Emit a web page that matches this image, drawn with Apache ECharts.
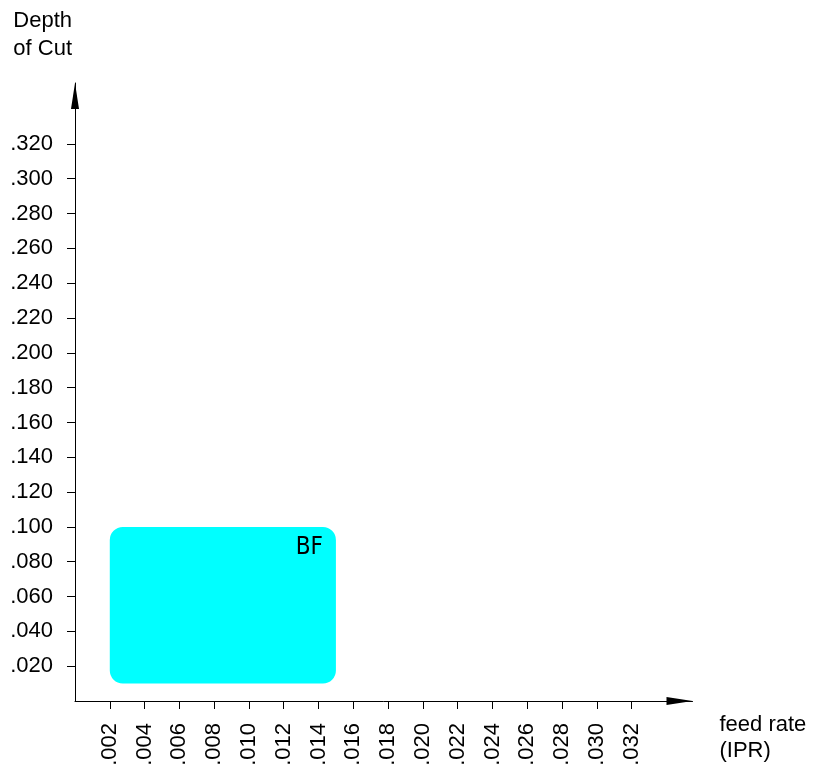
<!DOCTYPE html>
<html>
<head>
<meta charset="utf-8">
<title>Depth of Cut vs feed rate</title>
<script src="https://cdn.jsdelivr.net/npm/echarts@6/dist/echarts.min.js"></script>
<style>
  html, body { margin: 0; padding: 0; background: #fff; }
  #chart { width: 825px; height: 775px; }
</style>
</head>
<body>
<div id="chart"></div>
<script>
// tick positions on each axis
const feedTicks = [0.002, 0.004, 0.006, 0.008, 0.010, 0.012, 0.014, 0.016,
                   0.018, 0.020, 0.022, 0.024, 0.026, 0.028, 0.030, 0.032];
const depthTicks = [0.020, 0.040, 0.060, 0.080, 0.100, 0.120, 0.140, 0.160,
                    0.180, 0.200, 0.220, 0.240, 0.260, 0.280, 0.300, 0.320];

// operating zones: name, feed range, depth range
const zoneNames = ['BF'];
const zoneFeed = [[0.002, 0.015]];
const zoneDepth = [[0.010, 0.100]];

const fontFamily = '"Liberation Sans", Arial, sans-serif';
const fmt = v => v.toFixed(3).replace(/^0/, '');

const zoneData = zoneNames.map((n, i) => ({
    name: n,
    value: [zoneFeed[i][0], zoneFeed[i][1], zoneDepth[i][0], zoneDepth[i][1]]
}));

const myChart = echarts.init(document.getElementById('chart'));

const axisLineCommon = {
    show: true,
    symbol: ['none', 'triangle'],
    symbolSize: [8, 26],
    symbolOffset: [0, -13],
    lineStyle: { color: '#000', width: 1 }
};

const option = {
    animation: false,
    backgroundColor: '#fff',
    grid: {
        left: 75,
        right: 132.5,
        top: 83,
        bottom: 74,
        outerBoundsMode: 'none'
    },
    xAxis: {
        type: 'value',
        min: 0,
        max: 0.0355,
        name: 'feed rate\n(IPR)',
        nameLocation: 'end',
        nameGap: 27,
        nameMoveOverlap: false,
        nameTextStyle: {
            color: '#000',
            fontSize: 22,
            fontFamily: fontFamily,
            align: 'left',
            verticalAlign: 'top',
            lineHeight: 26,
            padding: [11, 0, 0, 0]
        },
        splitLine: { show: false },
        axisLine: axisLineCommon,
        axisTick: {
            show: true,
            customValues: feedTicks,
            length: 8,
            lineStyle: { color: '#000' }
        },
        axisLabel: {
            customValues: feedTicks,
            rotate: 90,
            margin: 22,
            color: '#000',
            fontSize: 22,
            fontFamily: fontFamily,
            formatter: fmt
        }
    },
    yAxis: {
        type: 'value',
        min: 0,
        max: 0.355,
        name: 'Depth\nof Cut',
        nameLocation: 'end',
        nameGap: 20,
        nameMoveOverlap: false,
        nameTextStyle: {
            color: '#000',
            fontSize: 22,
            fontFamily: fontFamily,
            align: 'right',
            verticalAlign: 'bottom',
            lineHeight: 28,
            padding: [0, 3, 0, 0]
        },
        splitLine: { show: false },
        axisLine: axisLineCommon,
        axisTick: {
            show: true,
            customValues: depthTicks,
            length: 8,
            lineStyle: { color: '#000' }
        },
        axisLabel: {
            customValues: depthTicks,
            margin: 22,
            color: '#000',
            fontSize: 22,
            fontFamily: fontFamily,
            formatter: fmt
        }
    },
    series: [
        {
            name: 'zones',
            type: 'custom',
            data: zoneData,
            encode: { x: [0, 1], y: [2, 3] },
            renderItem: (params, api) => {
                const p0 = api.coord([api.value(0), api.value(3)]);
                const p1 = api.coord([api.value(1), api.value(2)]);
                const name = zoneNames[params.dataIndex];
                return {
                    type: 'group',
                    children: [
                        {
                            type: 'rect',
                            shape: {
                                x: p0[0],
                                y: p0[1],
                                width: p1[0] - p0[0],
                                height: p1[1] - p0[1],
                                r: 13
                            },
                            style: { fill: '#00FFFF' }
                        },
                        {
                            type: 'text',
                            x: p1[0] - 13,
                            y: p0[1] + 9,
                            style: {
                                text: name,
                                fill: '#000',
                                fontSize: 24,
                                fontFamily: '"DejaVu Sans Condensed", "DejaVu Sans", sans-serif',
                                align: 'right',
                                verticalAlign: 'top'
                            }
                        }
                    ]
                };
            },
            z: 1
        }
    ]
};

myChart.setOption(option);
</script>
</body>
</html>
